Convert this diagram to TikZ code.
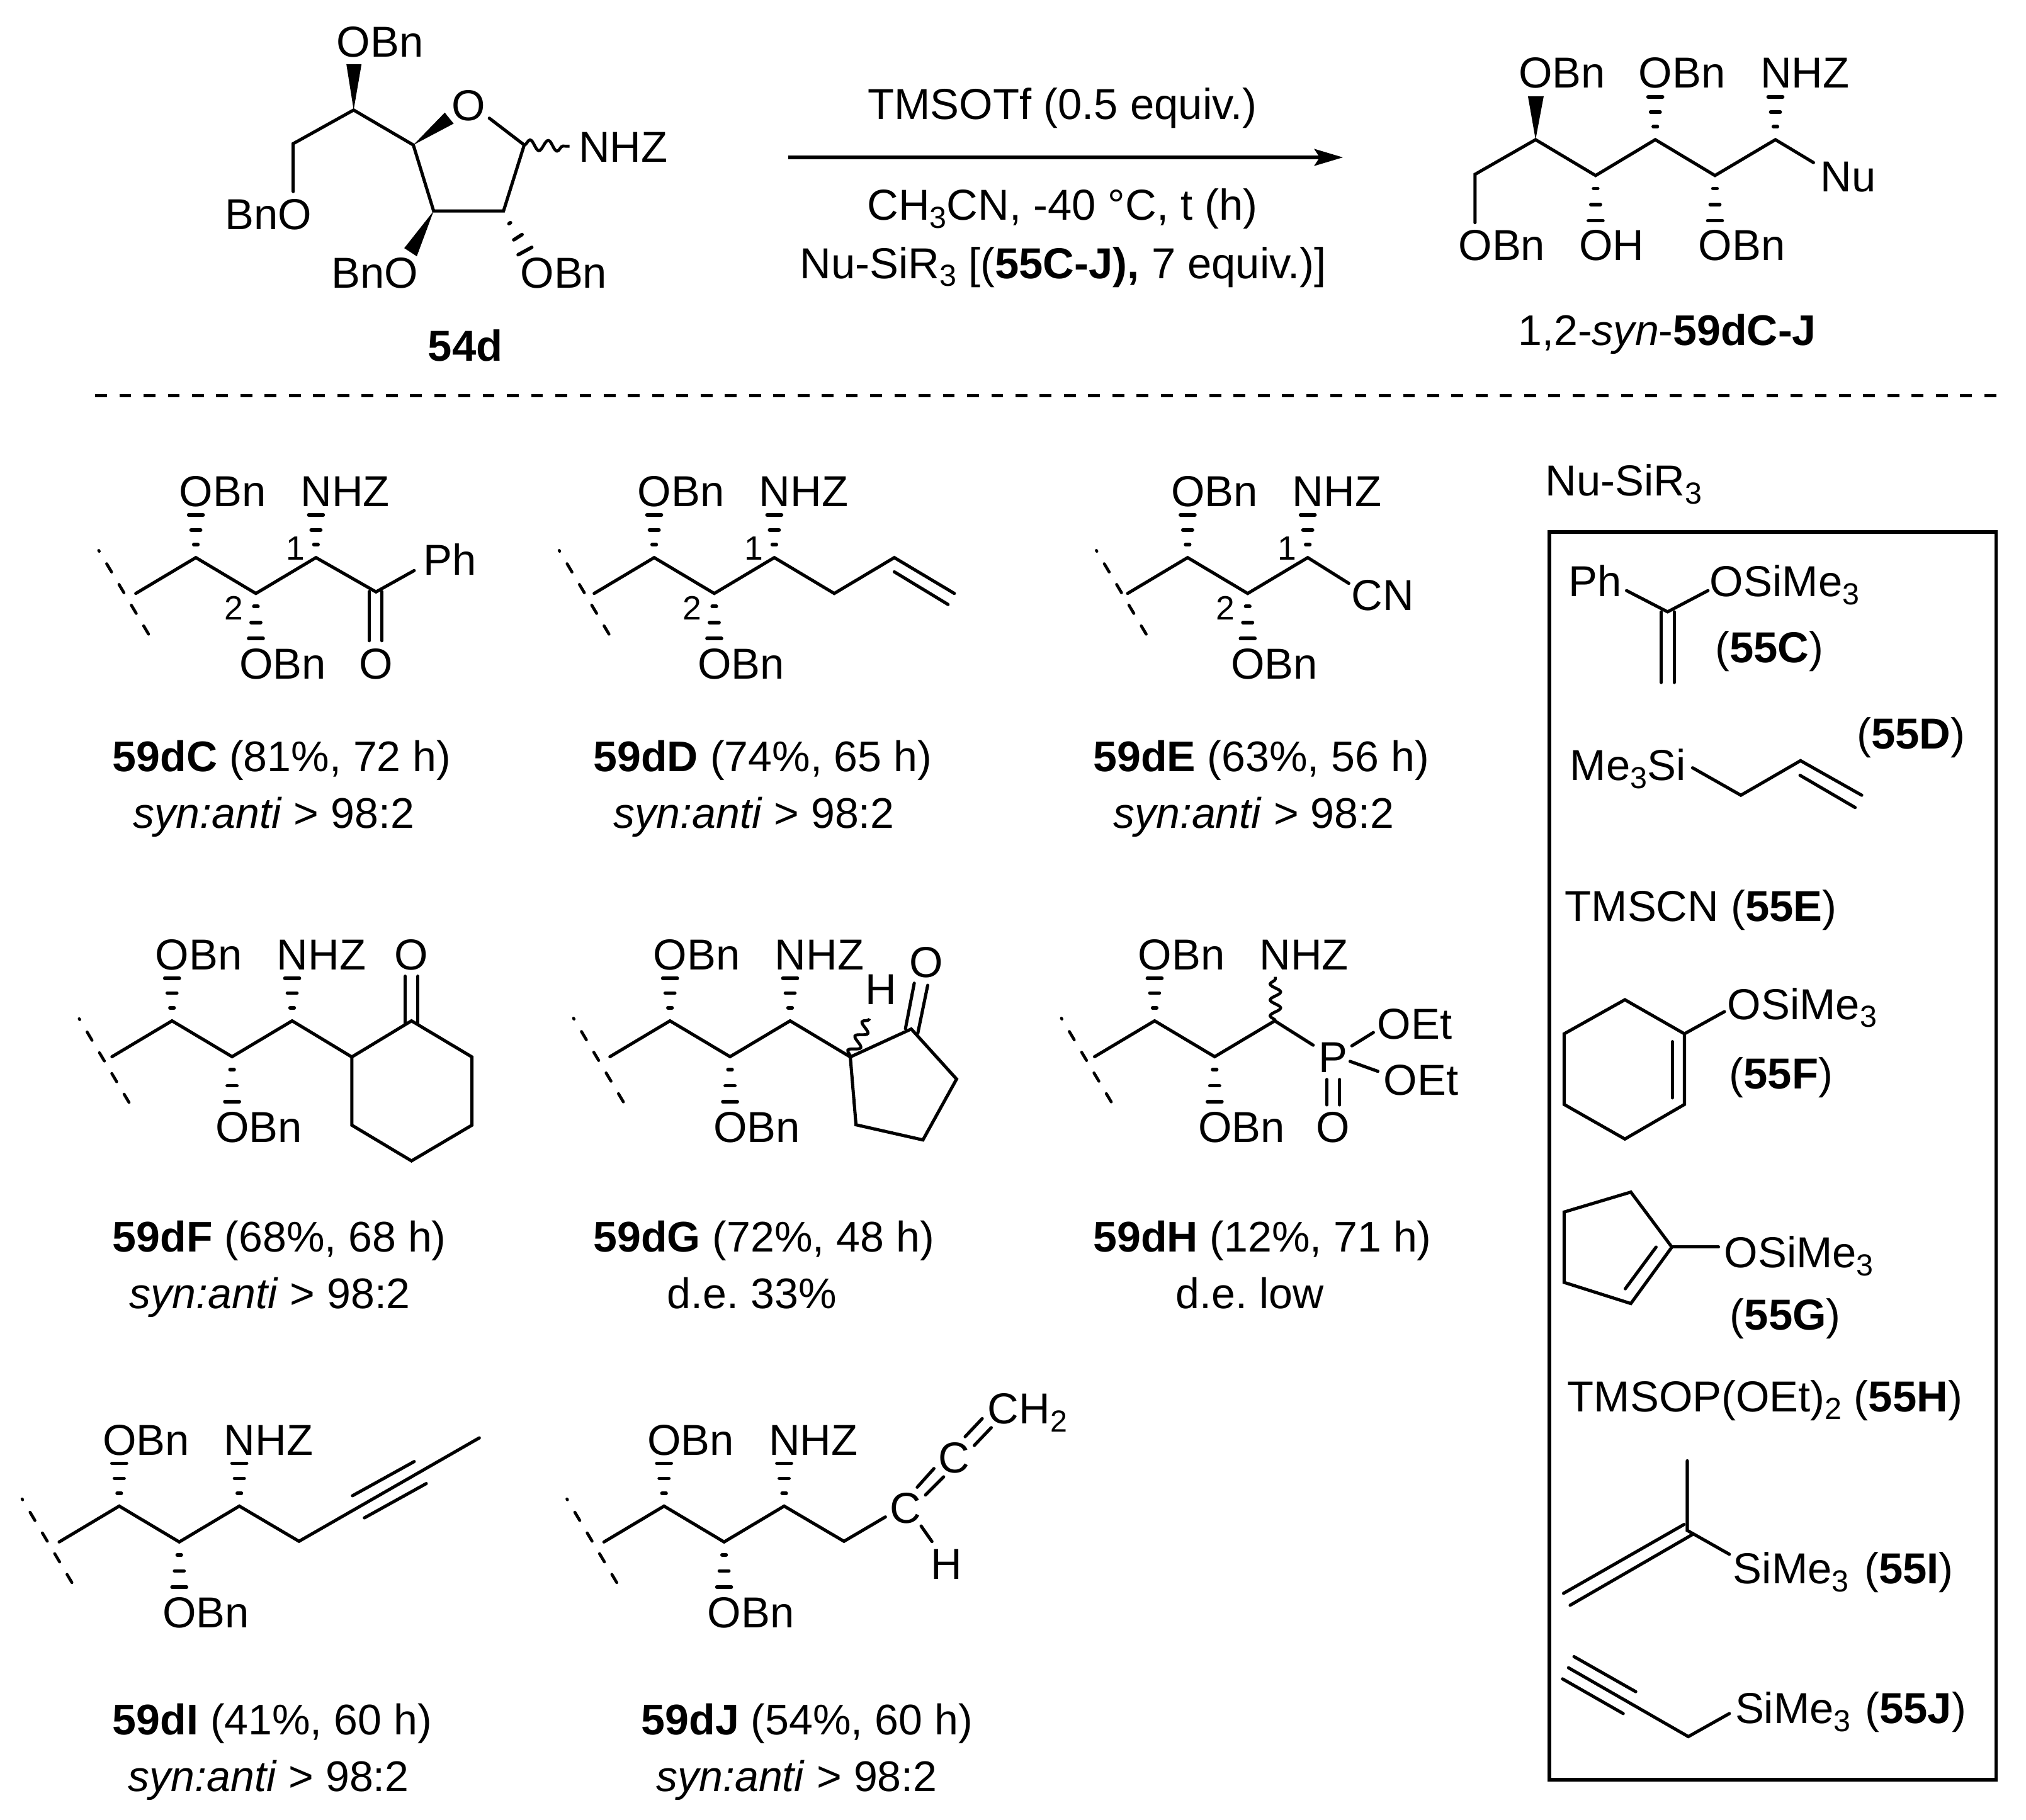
\documentclass[tikz,border=0pt]{standalone}
\usepackage{fontspec}
\setmainfont{Liberation Sans}
\usetikzlibrary{arrows.meta,decorations.pathmorphing}
\frenchspacing
\newcommand{\chemf}{\fontsize{19.05pt}{22pt}\selectfont\frenchspacing}
\newcommand{\capf}{\fontsize{18.85pt}{22pt}\selectfont\frenchspacing}
\newcommand{\numf}{\fontsize{14.8pt}{17pt}\selectfont}
\newcommand{\sbs}[1]{\raisebox{-3.5pt}{\fontsize{13.4pt}{15pt}\selectfont #1}}
\tikzset{
  x=0.02cm,y=-0.02cm,
  lbl/.style={anchor=base west,inner sep=0pt,outer sep=0pt,font=\chemf,text=black},
  ctr/.style={anchor=base,inner sep=0pt,outer sep=0pt,font=\chemf,text=black},
  cpt/.style={anchor=base west,inner sep=0pt,outer sep=0pt,font=\capf,text=black},
  nmb/.style={anchor=base,inner sep=0pt,outer sep=0pt,font=\numf,text=black},
  bond/.style={line width=1.4pt,line cap=round,line join=miter,black},
  hashb/.style={line width=1.55pt,line cap=round,black},
  attach/.style={line width=1.3pt,line cap=round,black,dash pattern=on 4.2pt off 6.4pt,dash phase=3.8pt},
  wavy/.style={line width=1.3pt,black,decorate,decoration={snake,segment length=#1,amplitude=2.3pt}},
  wavy/.default=8pt,
  wedgeb/.style={fill=black,draw=none},
}
\newcommand{\hashup}[2]{%
  \draw[hashb] ({#1-1.6},{#2-10}) -- ({#1+1.6},{#2-10});
  \draw[hashb] ({#1-3.7},{#2-21.4}) -- ({#1+3.7},{#2-21.4});
  \draw[hashb] ({#1-5.6},{#2-33}) -- ({#1+5.6},{#2-33});}
\newcommand{\hashdn}[2]{%
  \draw[hashb] ({#1-1.6},{#2+10}) -- ({#1+1.6},{#2+10});
  \draw[hashb] ({#1-3.7},{#2+22.4}) -- ({#1+3.7},{#2+22.4});
  \draw[hashb] ({#1-5.6},{#2+34.8}) -- ({#1+5.6},{#2+34.8});}
% #1 name, #2 peak x, #3 peak y, #4 #5 shift of the attachment line, #6 rest of the chain
\newcommand{\chainfrag}[6]{%
  \begin{scope}[shift={(#2,#3)}]
    \draw[bond] (-46.4,27.7) -- (0,0) -- (46.4,27.7) -- (92.8,0) #6;
    \draw[attach] ({-75+#4},{-5.5+#5}) -- ({-36+#4},{60+#5});
    \node[lbl] (#1-a) at (-12.8,-39.5) {OBn};
    \node[lbl] (#1-b) at (81,-39.5) {NHZ};
    \node[lbl] (#1-c) at (33.6,93.7) {OBn};
  \end{scope}
  \hashup{#2}{#3}
  \hashdn{#2+46.4}{#3+27.7}}
\newcommand{\numlbl}[3]{%
  \node[nmb] (#1-n1) at ({#2+76.8},{#3+2}) {1};
  \node[nmb] (#1-n2) at ({#2+29.2},{#3+48}) {2};}
\begin{document}
\begin{tikzpicture}
\useasboundingbox (0,0) rectangle (1565.2,1406.1);
\fill[white] (0,0) rectangle (1565.2,1406.1);

%% ---- 54d
\draw[bond] (226.5,148) -- (226.5,111) -- (273.2,85) -- (319.3,112) -- (335,163) -- (389,163) -- (405,112) -- (378,91.3);
\fill[wedgeb] (273.2,85) -- (267.6,49.6) -- (279.3,49.6) -- cycle;
\fill[wedgeb] (319.3,112) -- (343.6,87) -- (350.5,95.5) -- cycle;
\fill[wedgeb] (335,163) -- (312.3,191.7) -- (322,198) -- cycle;
\draw[hashb] (393.2,172.8) -- (394.4,172);
\draw[hashb] (396.9,185.3) -- (403.3,181.2);
\draw[hashb] (400.3,196.8) -- (410.8,191.1);
\draw[wavy] (405,112) -- (440,113);
\node[lbl] (sm-o1) at (260.2,43.8) {OBn};
\node[ctr] (sm-o) at (362,92.9) {O};
\node[lbl] (sm-nhz) at (447,125) {NHZ};
\node[lbl] (sm-o2) at (174,177.2) {BnO};
\node[lbl] (sm-o3) at (256,222.6) {BnO};
\node[lbl] (sm-o4) at (402,222.6) {OBn};
\node[ctr] (sm-lab) at (359.5,278.8) {\textbf{54d}};

%% ---- arrow
\coordinate (arrA) at (608.8,121.6);
\coordinate (arrB) at (1037.5,121.6);
\draw[line width=1.4pt,-{Stealth[length=12.6pt,width=7.4pt,inset=2.4pt]}] (arrA) -- (arrB);
\node[lbl] (cond1) at (670.5,92) {TMSOTf (0.5 equiv.)};
\node[lbl] (cond2) at (670,170) {CH\sbs{3}CN, -40 °C, t (h)};
\node[lbl] (cond3) at (618,215) {Nu-SiR\sbs{3} [(\textbf{55C-J),} 7 equiv.)]};

%% ---- product
\draw[bond] (1139.5,172) -- (1139.5,134.7) -- (1186.3,107.9) -- (1232.7,135.6) -- (1278.8,107.9) -- (1324.9,135.6) -- (1371.6,107.9) -- (1401,125.6);
\fill[wedgeb] (1186.3,107.9) -- (1180.4,74.3) -- (1192.6,74.3) -- cycle;
\hashup{1278.8}{107.9}
\hashup{1371.6}{107.9}
\hashdn{1232.7}{135.6}
\hashdn{1324.9}{135.6}
\node[lbl] (pr-a) at (1173.3,67.9) {OBn};
\node[lbl] (pr-b) at (1266,67.9) {OBn};
\node[lbl] (pr-c) at (1360,67.9) {NHZ};
\node[lbl] (pr-nu) at (1406.5,148) {Nu};
\node[lbl] (pr-d) at (1126.7,201) {OBn};
\node[lbl] (pr-e) at (1220,201) {OH};
\node[lbl] (pr-f) at (1312.2,201) {OBn};
\node[anchor=base,inner sep=0pt,font=\capf] (pr-lab) at (1288,266.8) {1,2-\textit{syn}-\textbf{59dC-J}};

%% ---- separator
\coordinate (sepA) at (73.5,305.7);
\coordinate (sepB) at (1545,305.7);
\draw[line width=1.35pt,dash pattern=on 5.2pt off 5.45pt] (sepA) -- (sepB);

%% ---- 59dC
\chainfrag{dC}{151.3}{430.8}{0}{0}{-- (139.2,26.5) -- (168.7,10)}
\hashup{244.1}{430.8}
\numlbl{dC}{151.3}{430.8}
\draw[bond] (285.3,457) -- (285.3,495) (295,457) -- (295,495);
\node[lbl] (dC-ph) at (327,444.5) {Ph};
\node[ctr] (dC-o) at (290.5,524.5) {O};
\node[cpt] (dC-t1) at (87,596) {\textbf{59dC} (81\%, 72 h)};
\node[cpt] (dC-t2) at (103,640) {\textit{syn:anti} > 98:2};

%% ---- 59dD
\chainfrag{dD}{505.4}{430.8}{1.6}{0}{-- (139.1,27.7) -- (185.5,0) -- (231.9,27.7)}
\hashup{598.2}{430.8}
\numlbl{dD}{505.4}{430.8}
\draw[bond] (690.9,441.8) -- (732.4,467);
\node[cpt] (dD-t1) at (458.5,596) {\textbf{59dD} (74\%, 65 h)};
\node[cpt] (dD-t2) at (474,640) {\textit{syn:anti} > 98:2};

%% ---- 59dE
\chainfrag{dE}{917.5}{430.8}{4.5}{0}{-- (124.5,19.9)}
\hashup{1010.3}{430.8}
\numlbl{dE}{917.5}{430.8}
\node[lbl] (dE-cn) at (1044,471.3) {CN};
\node[cpt] (dE-t1) at (844.5,596) {\textbf{59dE} (63\%, 56 h)};
\node[cpt] (dE-t2) at (860,640) {\textit{syn:anti} > 98:2};

%% ---- 59dF
\chainfrag{dF}{132.9}{788.7}{3.3}{3.9}{-- (138.9,27.9)}
\hashup{225.7}{788.7}
\draw[bond] (271.8,816.6) -- (317.9,788.7) -- (364.6,816.6) -- (364.6,869.3) -- (317.9,896.9) -- (271.8,869.3) -- cycle;
\draw[bond] (313.1,754.2) -- (313.1,791.2) (322.9,754.2) -- (322.9,791.2);
\node[ctr] (dF-o) at (317.9,749.5) {O};
\node[cpt] (dF-t1) at (87,967) {\textbf{59dF} (68\%, 68 h)};
\node[cpt] (dF-t2) at (100,1011) {\textit{syn:anti} > 98:2};

%% ---- 59dG
\chainfrag{dG}{517.6}{788.7}{0.5}{3.5}{-- (139.3,27.9)}
\hashup{610.4}{788.7}
\draw[bond] (656.9,816.6) -- (704,795) -- (739,833.7) -- (713,880.7) -- (661.3,869) -- cycle;
\draw[bond] (699.5,794.7) -- (706.3,759.6) (709,798.5) -- (716.7,761.2);
\draw[wavy=7pt] (656.9,816.6) -- (671.7,787);
\node[ctr] (dG-h) at (680.7,776) {H};
\node[ctr] (dG-o) at (715.8,755) {O};
\node[cpt] (dG-t1) at (458.5,967) {\textbf{59dG} (72\%, 48 h)};
\node[cpt] (dG-t2) at (515.5,1011) {d.e. 33\%};

%% ---- 59dH
\chainfrag{dH}{892}{788.7}{3}{3.5}{-- (122.5,18.8)}
\draw[wavy=7pt] (985.3,788.7) -- (985.3,754.7);
\draw[bond] (1044.4,808) -- (1061,797.7) (1043,820) -- (1064.5,827.7);
\draw[bond] (1025,834) -- (1025,853.6) (1035,834) -- (1035,853.6);
\node[ctr] (dH-p) at (1030,828.5) {P};
\node[ctr] (dH-o) at (1030,882.5) {O};
\node[lbl] (dH-e1) at (1064,802.6) {OEt};
\node[lbl] (dH-e2) at (1069,846) {OEt};
\node[cpt] (dH-t1) at (844.5,967) {\textbf{59dH} (12\%, 71 h)};
\node[cpt] (dH-t2) at (908.5,1011) {d.e. low};

%% ---- 59dI
\chainfrag{dI}{92.1}{1163.6}{0}{0}{-- (138.9,27.2) -- (278.2,-52.7)}
\hashup{184.9}{1163.6}
\draw[bond] (272.3,1155.6) -- (320,1129.2) (281.5,1172.7) -- (329.3,1146.2);
\node[cpt] (dI-t1) at (87,1340) {\textbf{59dI} (41\%, 60 h)};
\node[cpt] (dI-t2) at (99,1384) {\textit{syn:anti} > 98:2};

%% ---- 59dJ
\chainfrag{dJ}{513}{1163.6}{0}{0}{-- (139,27.2) -- (171,8.4)}
\hashup{605.8}{1163.6}
\draw[bond] (708.6,1149) -- (721.5,1134.6) (715,1155) -- (729,1141);
\draw[bond] (745.6,1110) -- (758.8,1096) (752.7,1116.7) -- (765.8,1103);
\draw[bond] (711.6,1179) -- (720,1191);
\node[ctr] (dJ-c1) at (699.6,1177) {C};
\node[ctr] (dJ-c2) at (736.8,1138) {C};
\node[lbl] (dJ-ch) at (763,1100) {CH\sbs{2}};
\node[ctr] (dJ-h) at (731,1220) {H};
\node[cpt] (dJ-t1) at (495.5,1340) {\textbf{59dJ} (54\%, 60 h)};
\node[cpt] (dJ-t2) at (507,1384) {\textit{syn:anti} > 98:2};

%% ---- reagents
\node[lbl] (nu-head) at (1194,383) {Nu-SiR\sbs{3}};
\draw[line width=1.45pt] (1197,411) rectangle (1542,1375);

\draw[bond] (1256.6,456.3) -- (1288.3,472.7) -- (1319.5,456.3);
\draw[bond] (1283.5,472.7) -- (1283.5,527.3) (1293.4,472.7) -- (1293.4,527.3);
\node[lbl] (rC-ph) at (1212,460.8) {Ph};
\node[lbl] (rC-o) at (1321,460.8) {OSiMe\sbs{3}};
\node[lbl] (rC-t) at (1325,512) {(\textbf{55C})};

\draw[bond] (1307.6,593.2) -- (1344.9,614.4) -- (1391,587.7) -- (1438.3,614.4);
\draw[bond] (1390.6,599) -- (1433.2,623.9);
\node[lbl] (rD-si) at (1213,603) {Me\sbs{3}Si};
\node[lbl] (rD-t) at (1434.5,578.5) {(\textbf{55D})};

\node[lbl] (rE-t) at (1209,711.6) {TMSCN (\textbf{55E})};

\draw[bond] (1301.3,798.7) -- (1255.3,772.4) -- (1208.4,798.7) -- (1208.4,853.3) -- (1255.3,880) -- (1301.3,853.3) -- cycle;
\draw[bond] (1291.9,804.8) -- (1291.9,848.2);
\draw[bond] (1301.3,798.7) -- (1332.2,781.6);
\node[lbl] (rF-o) at (1334.5,787.5) {OSiMe\sbs{3}};
\node[lbl] (rF-t) at (1336,841.3) {(\textbf{55F})};

\draw[bond] (1291.6,963.5) -- (1259.9,921) -- (1208.4,936.4) -- (1208.4,990.8) -- (1259.9,1007.1) -- cycle;
\draw[bond] (1279.4,963.5) -- (1255.6,995.7);
\draw[bond] (1291.6,963.5) -- (1327.6,963.5);
\node[lbl] (rG-o) at (1332,979.5) {OSiMe\sbs{3}};
\node[lbl] (rG-t) at (1336.5,1027.5) {(\textbf{55G})};

\node[lbl] (rH-t) at (1211,1090.5) {TMSOP(OEt)\sbs{2} (\textbf{55H})};

\draw[bond] (1303.5,1128.6) -- (1303.5,1182.4) -- (1336,1200.8);
\draw[bond] (1301,1177.8) -- (1207.9,1231) (1307.6,1185.5) -- (1213,1240.2);
\node[lbl] (rI-t) at (1339,1223.5) {SiMe\sbs{3}\hspace{1.5pt} (\textbf{55I})};

\draw[bond] (1211.7,1288.5) -- (1304.3,1341.7) -- (1336,1323.9);
\draw[bond] (1216,1279.9) -- (1263.7,1307) (1207.1,1297.1) -- (1254,1323.9);
\node[lbl] (rJ-t) at (1340.5,1331.5) {SiMe\sbs{3}\hspace{1pt} (\textbf{55J})};
\end{tikzpicture}
\end{document}
